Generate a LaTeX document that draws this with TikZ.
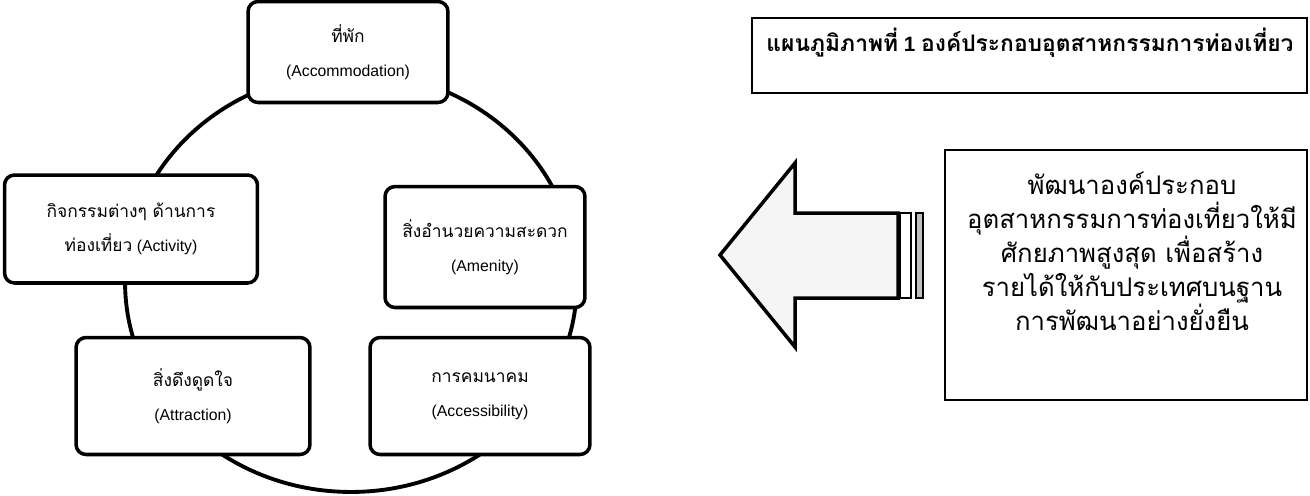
\documentclass[tikz,border=0pt]{standalone}
\usepackage{fontspec}
\setmainfont{Liberation Sans}
\newfontfamily\thai[Script=Thai,Scale=1.1]{Loma}
\usetikzlibrary{positioning}

\tikzset{
  part/.style={draw, line width=2pt, rounded corners=0.2cm, fill=white,
    align=center, inner sep=0pt, font=\fontsize{9}{19.3}\selectfont},
  frame/.style={draw, line width=1pt},
}

\begin{document}
\begin{tikzpicture}[x=0.02cm, y=-0.02cm]
  %%%%% START %%%%%
  \useasboundingbox (0,0) rectangle (1310,495);

  % ring behind the five parts
  \coordinate (hub) at (351,282);
  \draw[line width=2.2pt] (hub) ellipse[x radius=4.52cm, y radius=4.2cm];

  \node[part, minimum width=4cm, minimum height=2.02cm] (stay) at (348,52)
    {{\thai ที่พัก}\\(Accommodation)};
  \node[part, minimum width=5.06cm, minimum height=2.16cm] (activity) at (131,229)
    {{\thai กิจกรรมต่างๆ ด้านการ}\\{\thai ท่องเที่ยว} (Activity)};
  \node[part, minimum width=4cm, minimum height=2.42cm] (amenity) at (485,247)
    {{\thai สิ่งอำนวยความสะดวก}\\(Amenity)};
  \node[part, minimum width=4.68cm, minimum height=2.34cm] (attraction) at (193,396)
    {{\thai สิ่งดึงดูดใจ}\\(Attraction)};
  \node[part, minimum width=4.4cm, minimum height=2.34cm] (access) at (480,396)
    {{\thai การคมนาคม}\\(Accessibility)};

  % big arrow
  \draw[line width=2pt, fill=black!4] (795,213) -- (795,163) -- (720,255) -- (795,347)
    -- (795,298) -- (898,298) -- (898,213) -- cycle;
  \draw[line width=1.6pt, fill=white] (900,213) rectangle (911,298);
  \draw[line width=1.6pt, fill=black!25] (916,213) rectangle (923,298);

  % title
  \draw[frame] (752,18) rectangle (1307,93);
  \node[font=\fontsize{11.8}{14}\selectfont\bfseries] (caption) at (1030,43)
    {{\thai แผนภูมิภาพที่} 1 {\thai องค์ประกอบอุตสาหกรรมการท่องเที่ยว}};

  % goal box
  \draw[frame] (945,150) rectangle (1307,400);
  \node[align=center, font=\thai\fontsize{13.3}{19.3}\selectfont] (goal) at (1132,251)
    {พัฒนาองค์ประกอบ\\อุตสาหกรรมการท่องเที่ยวให้มี\\ศักยภาพสูงสุด เพื่อสร้าง\\รายได้ให้กับประเทศบนฐาน\\การพัฒนาอย่างยั่งยืน};

  %%%%% END %%%%%
\end{tikzpicture}
\end{document}
